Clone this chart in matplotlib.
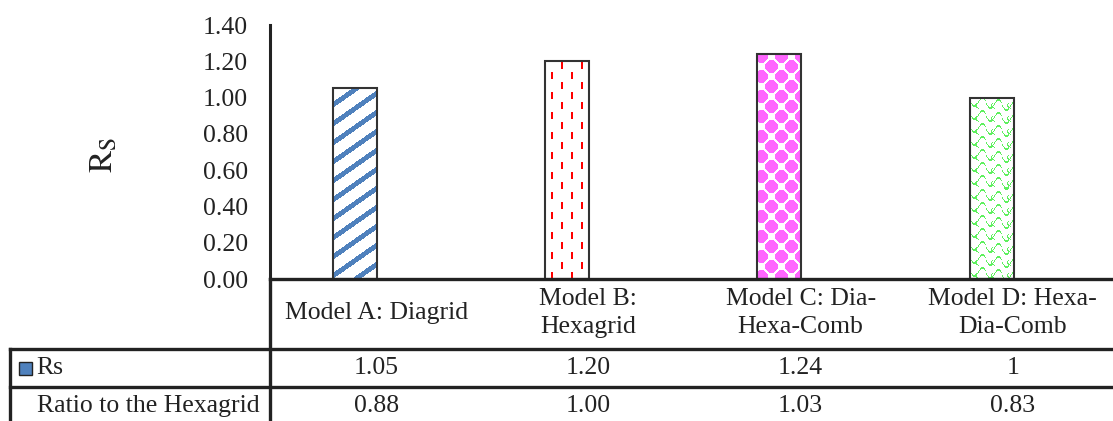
import numpy as np
import matplotlib
matplotlib.use("Agg")
import matplotlib.pyplot as plt
from matplotlib.lines import Line2D
from matplotlib.patches import Rectangle

# ---------------- data ----------------
categories = ["Model A: Diagrid", "Model B:\nHexagrid", "Model C: Dia-\nHexa-Comb",
              "Model D: Hexa-\nDia-Comb"]
rs_values = [1.05, 1.20, 1.24, 1.00]
rs_labels = ["1.05", "1.20", "1.24", "1"]
ratio_labels = ["0.88", "1.00", "1.03", "0.83"]
yticks = [0.0, 0.2, 0.4, 0.6, 0.8, 1.0, 1.2, 1.4]

plt.rcParams['font.family'] = ['Liberation Serif', 'DejaVu Serif']
plt.rcParams['mathtext.fontset'] = 'stix'

W, H = 1113, 421
FS = 18.5
TC = '#222222'
fig = plt.figure(figsize=(W / 100, H / 100), dpi=100)

def fx(px):
    return px / W

def fy(py):
    return 1 - py / H

# plot area: x 270 -> 1119 (cut by the image), y 25 -> 279
ax_l, ax_r, ax_t, ax_b = 270, 1119, 25, 279
ax = fig.add_axes([fx(ax_l), fy(ax_b), fx(ax_r - ax_l), (ax_b - ax_t) / H])
ax.set_xlim(-0.5, 3.5)
ax.set_ylim(0, 1.4)
ax.set_yticks(yticks)
ax.set_yticklabels(["%.2f" % t for t in yticks])
ax.set_xticks([])
ax.tick_params(axis='y', length=0, pad=16, labelsize=FS, colors=TC)
for s in ['top', 'right', 'bottom']:
    ax.spines[s].set_visible(False)
ax.spines['left'].set_linewidth(2.2)
ax.spines['left'].set_color(TC)

# textures (pixel patterns) for the bars
def texture(kind, w, h):
    img = np.ones((h, w, 3))
    r, c = np.mgrid[0:h, 0:w]
    u = h - 1 - r
    if kind == 0:
        m = np.mod(u - 0.7 * c, 19) < 6
        img[m] = (79 / 255, 129 / 255, 189 / 255)
    elif kind == 1:
        for k, off in enumerate([6, 16, 26, 36]):
            ph = 0 if k % 2 == 0 else 10
            m = ((c == off) | (c == off + 1)) & (np.mod(u + ph, 20) < 7)
            img[m] = (1, 0, 0)
    elif kind == 2:
        m = np.zeros((h, w), bool)
        for ox, oy in [(4, 2), (14, 12)]:
            a = np.mod(c - ox, 20)
            b = np.mod(u - oy, 20)
            a = np.minimum(a, 20 - a)
            b = np.minimum(b, 20 - b)
            m |= (a + b < 8.5) & (np.maximum(a, b) < 6.5)
        img[m] = (1, 102 / 255, 1)
    else:
        v = np.mod(u + 4 * np.sin(2 * np.pi * c / 16) + 2 * np.floor(c / 16), 13)
        m = np.abs(v - 6.5) < 0.9
        v2 = np.mod(c + 3 * np.sin(2 * np.pi * u / 13), 16)
        m2 = (np.abs(v2 - 8) < 0.7) & (np.mod(u, 13) < 6)
        img[m | m2] = (94 / 255, 240 / 255, 94 / 255)
    return img

bar_w = 0.207
xpos = np.arange(len(categories)) - 0.1
bars = ax.bar(xpos, rs_values, bar_w, fill=False, edgecolor='#333333',
              linewidth=1.5, zorder=3)
px_per_x = (ax_r - ax_l) / 4.0
px_per_y = (ax_b - ax_t) / 1.4
for i, b in enumerate(bars):
    w = int(round(b.get_width() * px_per_x))
    h = int(round(b.get_height() * px_per_y))
    ax.imshow(texture(i, w, h), extent=[b.get_x(), b.get_x() + b.get_width(), 0, b.get_height()],
              aspect='auto', interpolation='nearest', zorder=2)
ax.set_xlim(-0.5, 3.5)
ax.set_ylim(0, 1.4)

# y axis title
fig.text(fx(104), fy(155), r'$\mathrm{R_S}$', rotation=90, ha='center', va='center',
         fontsize=24, color=TC)

# data table lines
fig.add_artist(Line2D([fx(270), fx(1113)], [fy(279), fy(279)], color=TC, lw=2.4))
fig.add_artist(Line2D([fx(10), fx(1113)], [fy(349), fy(349)], color=TC, lw=2.4))
fig.add_artist(Line2D([fx(10), fx(1113)], [fy(387), fy(387)], color=TC, lw=2.4))
fig.add_artist(Line2D([fx(270), fx(270)], [fy(279), fy(421)], color=TC, lw=2.4))
fig.add_artist(Line2D([fx(10), fx(10)], [fy(349), fy(421)], color=TC, lw=2.4))

# table texts
cx = [fx(ax_l + (i + 0.5) * px_per_x) for i in range(len(categories))]
for i, cat in enumerate(categories):
    fig.text(cx[i], fy(313), cat, ha='center', va='center', fontsize=FS,
             linespacing=1.3, color=TC)
    fig.text(cx[i], fy(368), rs_labels[i], ha='center', va='center', fontsize=FS,
             color=TC)
    fig.text(cx[i], fy(406), ratio_labels[i], ha='center', va='center', fontsize=FS,
             color=TC)

fig.add_artist(Rectangle((fx(19), fy(375)), fx(13), 13 / H, facecolor='#4F81BD',
                         edgecolor=TC, lw=1))
fig.text(fx(36), fy(368), "Rs", ha='left', va='center', fontsize=FS, color=TC)
fig.text(fx(37), fy(406), "Ratio to the Hexagrid", ha='left', va='center', fontsize=FS,
         color=TC)

fig.savefig("out.png", dpi=100)
